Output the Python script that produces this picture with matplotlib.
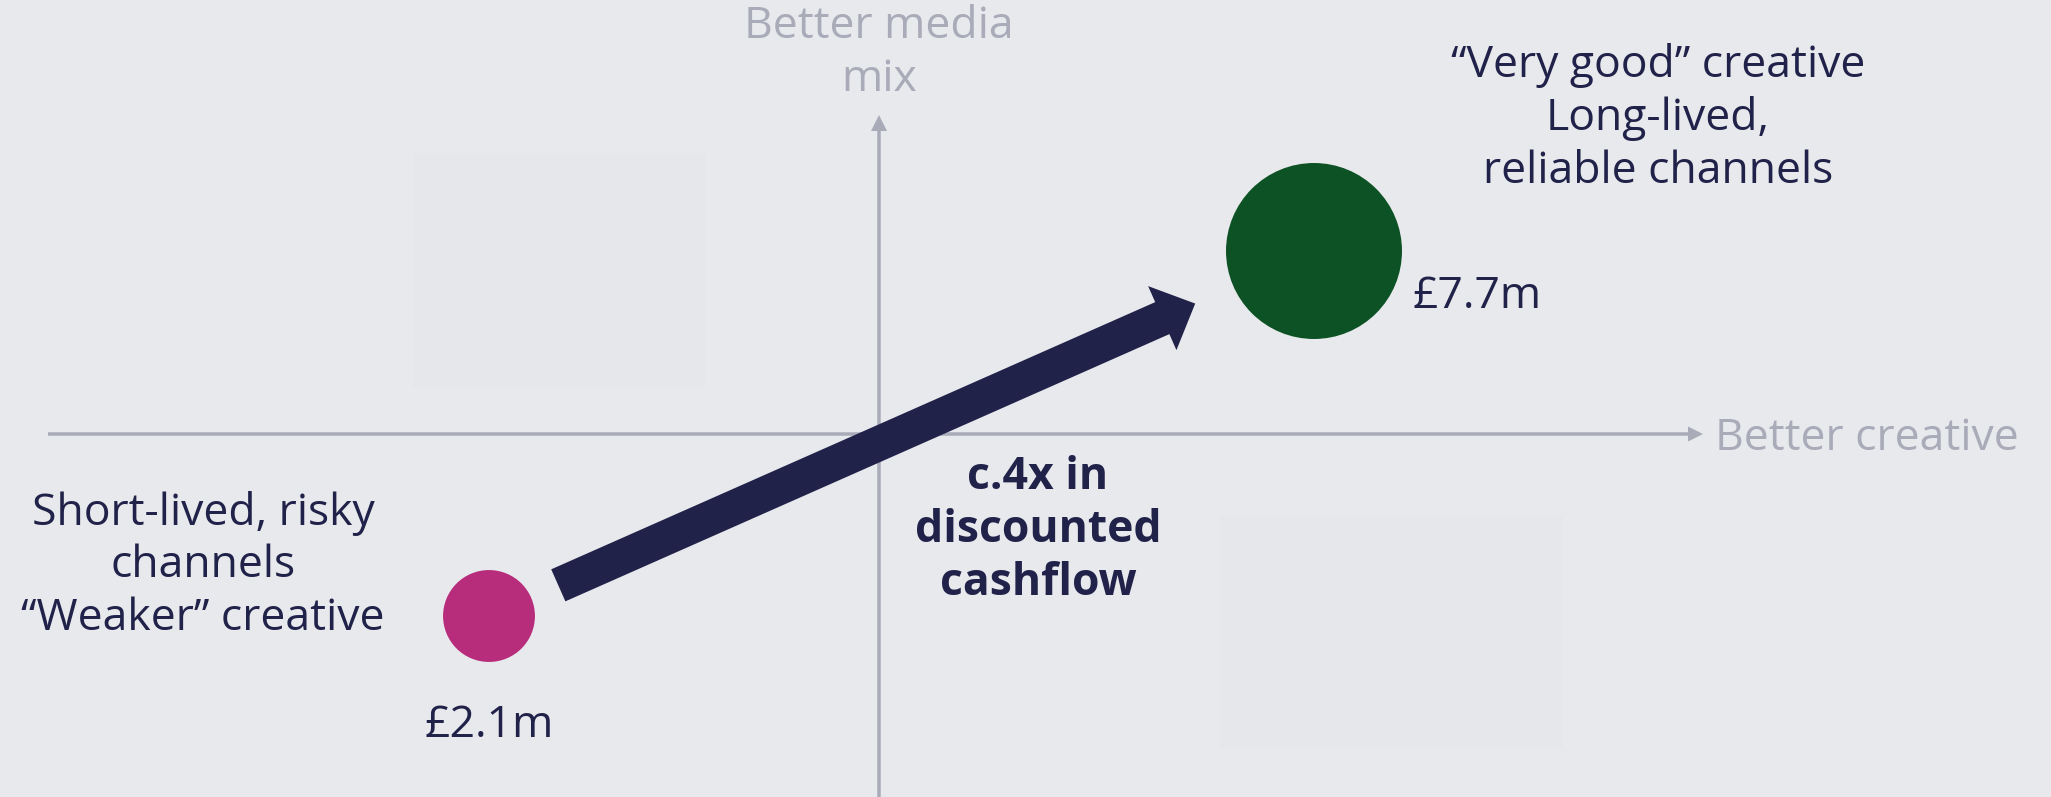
import numpy as np
import matplotlib.pyplot as plt
from matplotlib.patches import Rectangle, FancyArrow

# two campaigns placed on creative quality (x) vs media mix quality (y)
campaigns = ['weaker', 'very good']
creative = [-3.9, 4.35]
media = [-1.82, 1.83]
cashflow = [2.1, 7.7]          # discounted cashflow, £m
colors = ['#b72d7c', '#0d5224']
descriptions = ['Short-lived, risky\nchannels\n\u201cWeaker\u201d creative',
                '\u201cVery good\u201d creative\nLong-lived,\nreliable channels']
uplift_text = 'c.4x in\ndiscounted\ncashflow'
x_label = 'Better creative'
y_label = 'Better media\nmix'

bg = '#e8e9ed'
grey = '#a9abb9'
navy = '#212249'
font = 'Open Sans'
fs = 32
ls = 1.24

fig = plt.figure(figsize=(20.51, 7.97), dpi=100)
fig.patch.set_facecolor(bg)
ax = fig.add_axes([0, 0, 1, 1])
ax.set_facecolor(bg)
ax.set_xlim(-8.79, 11.72)
ax.set_ylim(-3.63, 4.34)
ax.axis('off')

# faint placeholder panels
ax.add_patch(Rectangle((-4.67, 0.47), 2.93, 2.35, facecolor='#e6e7eb', edgecolor='#e8e9ed', lw=1, zorder=0))
ax.add_patch(Rectangle((3.40, -3.15), 3.44, 2.35, facecolor='#e6e7eb', edgecolor='#e8e9ed', lw=1, zorder=0))

# quadrant axes
ax.add_patch(FancyArrow(-8.31, 0, 16.55, 0, width=0.035, head_width=0.15, head_length=0.15,
                        length_includes_head=True, color=grey, lw=0, zorder=1))
ax.add_patch(FancyArrow(0, -3.7, 0, 6.89, width=0.035, head_width=0.16, head_length=0.16,
                        length_includes_head=True, color=grey, lw=0, zorder=1))
ax.text(8.36, -0.16, x_label, ha='left', va='baseline', fontsize=fs, color=grey, family=font)
ax.text(0, 3.43, y_label, ha='center', va='baseline', fontsize=fs, color=grey, family=font,
        linespacing=ls)

# bubbles, area proportional to cashflow
ax.scatter(creative, media, s=np.array(cashflow) * 2085, c=colors, linewidths=0, zorder=3)

# arrow between the two bubbles
p = np.array([creative[0], media[0]])
g = np.array([creative[1], media[1]])
tail = p + 0.084 * (g - p)
tip = p + 0.856 * (g - p)
ax.add_patch(FancyArrow(tail[0], tail[1], tip[0] - tail[0], tip[1] - tail[1], width=0.35,
                        head_width=0.70, head_length=0.36, length_includes_head=True,
                        color=navy, lw=0, zorder=4))

# value labels
ax.annotate('£%sm' % cashflow[0], (creative[0], media[0]), xytext=(0, -87), textcoords='offset points',
            ha='center', va='baseline', fontsize=fs, color=navy, family=font)
ax.annotate('£%sm' % cashflow[1], (creative[1], media[1]), xytext=(71, -41), textcoords='offset points',
            ha='left', va='baseline', fontsize=fs, color=navy, family=font)

# descriptions
ax.text(-6.76, -1.96, descriptions[0], ha='center', va='baseline', fontsize=fs, color=navy,
        family=font, linespacing=ls)
ax.text(7.79, 2.51, descriptions[1], ha='center', va='baseline', fontsize=fs, color=navy,
        family=font, linespacing=ls)
ax.text(1.59, -1.61, uplift_text, ha='center', va='baseline', fontsize=fs, color=navy,
        family=font, weight='bold', linespacing=ls)

plt.savefig('out.png', dpi=100, facecolor=bg)
